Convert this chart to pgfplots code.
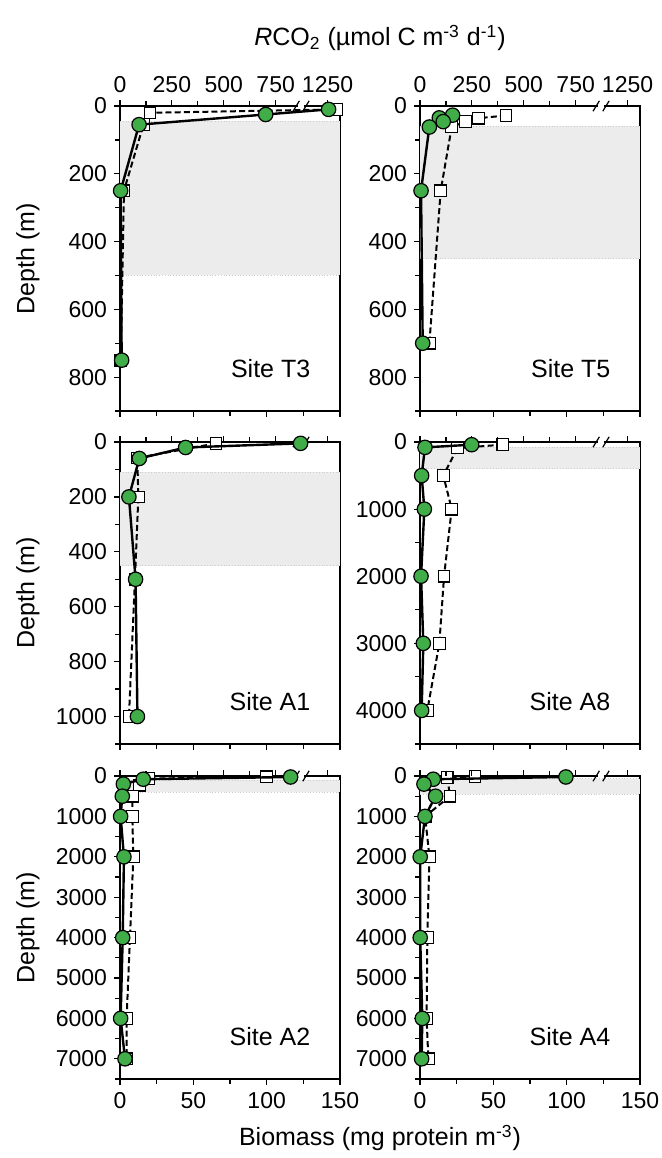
\documentclass[border=0pt]{standalone}
\usepackage{fontspec}
\setmainfont{Liberation Sans}
\usepackage{pgfplots}
\pgfplotsset{compat=1.18}
\definecolor{grn}{RGB}{64,173,72}
\definecolor{bandgray}{RGB}{236,236,236}
\pgfplotsset{
  base/.style={scale only axis, width=110pt, anchor=south west, y dir=reverse, ymin=0, clip=false,
    tick align=outside, major tick length=3pt, minor tick length=2.5pt,
    every tick/.append style={black, line width=0.6pt},
    axis line style={line width=0.75pt},
    tick label style={font=\fontsize{11.5}{13}\selectfont},
    /pgf/number format/assume math mode=true,
    /pgf/number format/1000 sep={}},
  bio/.style={base, xmin=0, xmax=150, xtick={0,50,100,150}, minor xtick={25,75,125}, xtick pos=lower, ytick pos=left},
  rco/.style={base, xmin=0, xmax=1060, xtick={0,250,500,750,1000}, xticklabels={0,250,500,750,1250}, minor xtick={125,375,625}, xtick pos=upper, hide y axis, axis line style={draw=none}},
  sq/.style={black, line width=1pt, dash pattern=on 3pt off 1.6pt, mark=square*, mark size=2.9pt, mark options={solid, fill=white, draw=black, line width=0.6pt}},
  gr/.style={black, line width=1.2pt, solid, mark=*, mark size=3.6pt, mark options={fill=grn, draw=black, line width=0.6pt}},
  t9/.style={ymax=900, ytick={0,200,400,600,800}, minor ytick={100,300,500,700,900}},
  t11/.style={ymax=1100, ytick={0,200,400,600,800,1000}, minor ytick={100,300,500,700,900,1100}},
  t45/.style={ymax=4500, ytick={0,1000,2000,3000,4000}, minor ytick={500,1500,2500,3500,4500}},
  t75/.style={ymax=7500, ytick={0,1000,2000,3000,4000,5000,6000,7000}, minor ytick={500,1500,2500,3500,4500,5500,6500,7500}},
}
% RCO2 values above the axis break (1000) are drawn 250 units to the left
\pgfplotsset{table/rtab/.style={x expr={\thisrow{r}>1000 ? \thisrow{r}-250 : \thisrow{r}}, y=d, row sep=\\}}
\newcommand{\brk}{%
  \draw[white, line width=1.8pt] (axis cs:857,0) -- (axis cs:888,0);
  \draw[black, line width=0.6pt] (axis cs:849,0) ++(-1.6pt,-2.6pt) -- ++(3.2pt,5.2pt);
  \draw[black, line width=0.6pt] (axis cs:896,0) ++(-1.6pt,-2.6pt) -- ++(3.2pt,5.2pt);}
\newcommand{\shd}[2]{%
  \fill[bandgray] (axis cs:0,#1) rectangle (axis cs:150,#2);
  \draw[gray!40, densely dotted, line width=0.4pt] (axis cs:0,#1) -- (axis cs:150,#1);
  \draw[gray!40, densely dotted, line width=0.4pt] (axis cs:0,#2) -- (axis cs:150,#2);}
\newcommand{\site}[1]{\node[anchor=base east, font=\fontsize{12.5}{15}\selectfont] at (axis description cs:0.897,0.11) {#1};}
\begin{document}
\begin{tikzpicture}
\path[use as bounding box] (0pt,0pt) rectangle (330.5pt,579pt);
% ---------- Site T3 ----------
\begin{axis}[bio, t9, height=152.5pt, at={(60pt,373.5pt)}, xticklabels={}]
\shd{45}{500}
\addplot[sq] coordinates {(148,10) (20.5,20) (16,55) (2.7,250) (0.5,750)};
\site{Site T3}
\end{axis}
\begin{axis}[rco, t9, height=152.5pt, at={(60pt,373.5pt)}]
\addplot[gr] table[rtab] {r d \\ 1255 10 \\ 702 25 \\ 92 55 \\ 3 250 \\ 8 750 \\};
\brk
\end{axis}
% ---------- Site T5 ----------
\begin{axis}[bio, t9, height=152.5pt, at={(210pt,373.5pt)}, xticklabels={}]
\shd{60}{450}
\addplot[sq] coordinates {(58.6,28) (39.8,36) (31,46) (21.6,62) (14.1,250) (6.4,700)};
\site{Site T5}
\end{axis}
\begin{axis}[rco, t9, height=152.5pt, at={(210pt,373.5pt)}]
\addplot[gr] table[rtab] {r d \\ 157 27 \\ 93 35 \\ 112 46 \\ 45 62 \\ 5 250 \\ 13 700 \\};
\brk
\end{axis}
% ---------- Site A1 ----------
\begin{axis}[bio, t11, height=151pt, at={(60pt,207pt)}, xticklabels={}]
\shd{110}{450}
\addplot[sq] coordinates {(65.5,5) (11.8,58) (12.5,200) (10.2,500) (6.1,1000)};
\site{Site A1}
\end{axis}
\begin{axis}[rco, t11, height=151pt, at={(60pt,207pt)}, xticklabels={}]
\addplot[gr] table[rtab] {r d \\ 870 5 \\ 316 20 \\ 93 60 \\ 43 200 \\ 75 500 \\ 84 1000 \\};
\brk
\end{axis}
% ---------- Site A8 ----------
\begin{axis}[bio, t45, height=151pt, at={(210pt,207pt)}, xticklabels={}]
\shd{75}{400}
\addplot[sq] coordinates {(56.4,40) (25.5,90) (15.9,500) (21.6,1000) (16.4,2000) (13.2,3000) (5,4000)};
\site{Site A8}
\end{axis}
\begin{axis}[rco, t45, height=151pt, at={(210pt,207pt)}, xticklabels={}]
\addplot[gr] table[rtab] {r d \\ 249 40 \\ 24 80 \\ 8 500 \\ 21 1000 \\ 5 2000 \\ 16 3000 \\ 8 4000 \\};
\brk
\end{axis}
% ---------- Site A2 ----------
\begin{axis}[bio, t75, height=151.5pt, at={(60pt,39.5pt)}]
\shd{100}{400}
\addplot[sq] coordinates {(100,20) (19.3,65) (13.2,230) (8.4,500) (8.4,1000) (9.1,2000) (6.8,4000) (4.5,6000) (4.5,7000)};
\site{Site A2}
\end{axis}
\begin{axis}[rco, t75, height=151.5pt, at={(60pt,39.5pt)}, xticklabels={}]
\addplot[gr] table[rtab] {r d \\ 822 25 \\ 112 80 \\ 16 200 \\ 11 500 \\ 3 1000 \\ 19 2000 \\ 13 4000 \\ 3 6000 \\ 24 7000 \\};
\brk
\end{axis}
% ---------- Site A4 ----------
\begin{axis}[bio, t75, height=151.5pt, at={(210pt,39.5pt)}]
\shd{65}{450}
\addplot[sq] coordinates {(37.5,10) (18.6,40) (20.5,500) (3.5,1000) (6.4,2000) (5,4000) (4.5,6000) (5.7,7000)};
\site{Site A4}
\end{axis}
\begin{axis}[rco, t75, height=151.5pt, at={(210pt,39.5pt)}, xticklabels={}]
\addplot[gr] table[rtab] {r d \\ 703 24 \\ 64 80 \\ 19 200 \\ 75 500 \\ 24 1000 \\ 1 2000 \\ 1 4000 \\ 11 6000 \\ 8 7000 \\};
\brk
\end{axis}
% ---------- labels ----------
\node[font=\fontsize{12.5}{15}\selectfont] at (190pt,560pt) {\textit{R}CO\textsubscript{2} (µmol C m\textsuperscript{-3} d\textsuperscript{-1})};
\node[font=\fontsize{12.5}{15}\selectfont] at (190pt,10pt) {Biomass (mg protein m\textsuperscript{-3})};
\node[font=\fontsize{12.5}{15}\selectfont, rotate=90] at (14pt,449.75pt) {Depth (m)};
\node[font=\fontsize{12.5}{15}\selectfont, rotate=90] at (14pt,282.5pt) {Depth (m)};
\node[font=\fontsize{12.5}{15}\selectfont, rotate=90] at (14pt,115.25pt) {Depth (m)};
\end{tikzpicture}
\end{document}
